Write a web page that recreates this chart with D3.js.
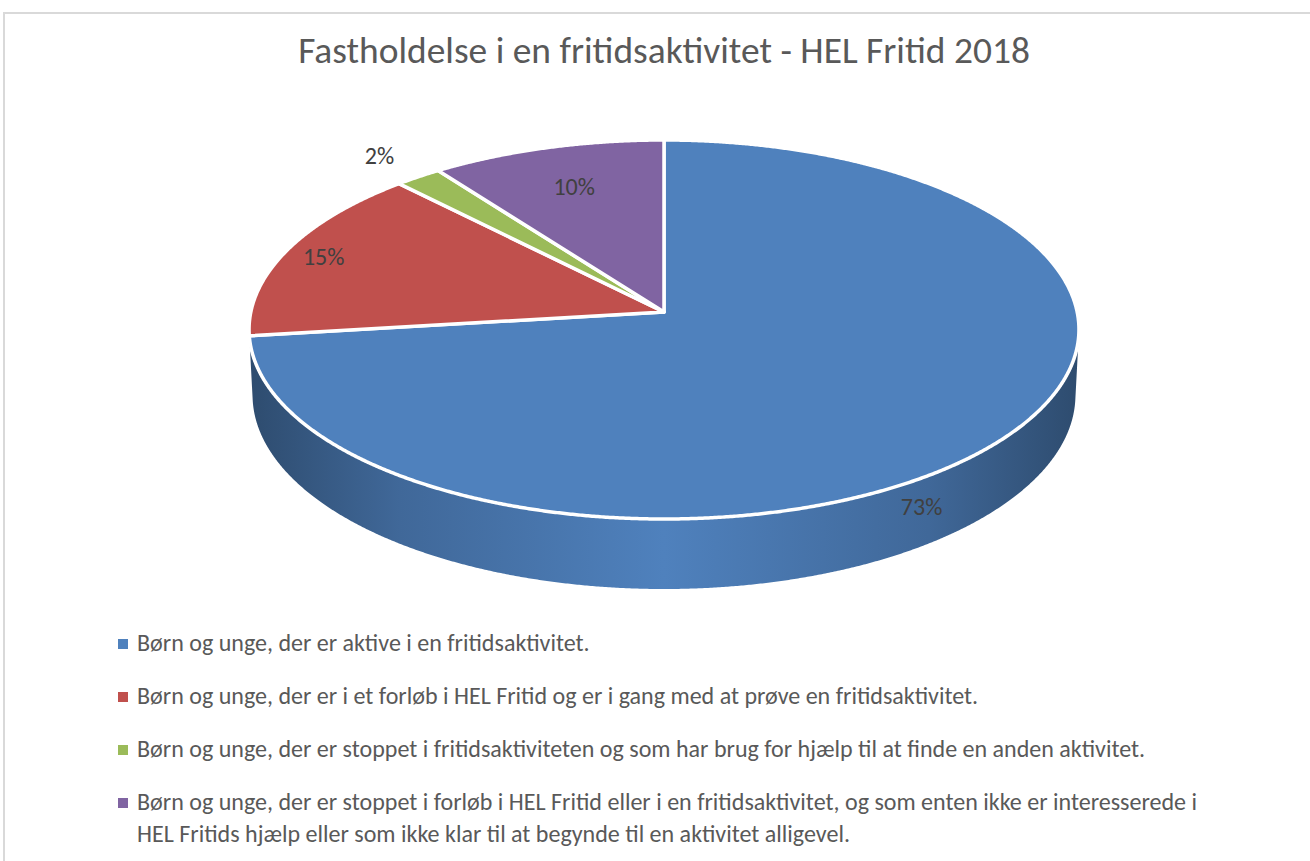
<!DOCTYPE html>
<html>
<head>
<meta charset="utf-8">
<script src="https://cdn.jsdelivr.net/npm/d3@7"></script>
<style>
  body { margin: 0; background: #fff; }
  text { font-family: Carlito, Calibri, "Open Sans", sans-serif; }
</style>
</head>
<body>
<div id="chart"></div>
<script>
// data
var title = "Fastholdelse i en fritidsaktivitet - HEL Fritid 2018";
var categories = [
  "Børn og unge, der er aktive i en fritidsaktivitet.",
  "Børn og unge, der er i et forløb i HEL Fritid og er i gang med at prøve en fritidsaktivitet.",
  "Børn og unge, der er stoppet i fritidsaktiviteten og som har brug for hjælp til at finde en anden aktivitet.",
  "Børn og unge, der er stoppet i forløb i HEL Fritid eller i en fritidsaktivitet, og som enten ikke er interesserede i\nHEL Fritids hjælp eller som ikke klar til at begynde til en aktivitet alligevel."
];
var values = [73, 15, 2, 10];
var labels = ["73%", "15%", "2%", "10%"];

var colors = ["#4f81bd", "#c0504d", "#9bbb59", "#8064a2"];

var W = 1310, H = 861;
var svg = d3.select("#chart").append("svg").attr("width", W).attr("height", H);

// chart border
svg.append("rect")
  .attr("x", 4).attr("y", 13).attr("width", 1330).attr("height", 900)
  .attr("fill", "none").attr("stroke", "#d9d9d9").attr("stroke-width", 2);

// title
var t = svg.append("text")
  .attr("x", 664).attr("y", 63)
  .attr("text-anchor", "middle")
  .attr("font-size", 33)
  .attr("fill", "#595959")
  .text(title);
fitText(t, 732);

// 3d projection of a tilted disk
var elev = 27.05 * Math.PI / 180;
var s = Math.sin(elev), c = Math.cos(elev);
var D = 9.645, K = 3985, h = 0.179;
var cx = 664, cy = 312;
var xScale = d3.scaleLinear().domain([-1, 1]).range([cx - K, cx + K]);
var yScale = d3.scaleLinear().domain([-1, 1]).range([cy + K, cy - K]);

function proj(theta, r, z) {
  var x = r * Math.sin(theta), y = r * Math.cos(theta);
  var depth = y * c - z * s + D;
  var up = y * s + z * c;
  return [xScale(x / depth), yScale(up / depth)];
}

var pie = d3.pie().sort(null).value(function(d) { return d; });
var arcs = pie(values);

var step = Math.PI / 720;
function arcPoints(a0, a1, z) {
  var pts = [];
  var n = Math.max(2, Math.ceil(Math.abs(a1 - a0) / step));
  for (var i = 0; i <= n; i++) {
    pts.push(proj(a0 + (a1 - a0) * i / n, 1, z));
  }
  return pts;
}

// gradients for the side walls
var defs = svg.append("defs");
colors.forEach(function(col, i) {
  var g = defs.append("linearGradient")
    .attr("id", "side" + i)
    .attr("gradientUnits", "userSpaceOnUse")
    .attr("x1", xScale(-1 / D)).attr("x2", xScale(1 / D))
    .attr("y1", 0).attr("y2", 0);
  var stops = [[0, 1.5], [0.18, 0.6], [0.5, 0], [0.82, 0.6], [1, 1.5]];
  stops.forEach(function(st) {
    g.append("stop").attr("offset", st[0])
      .attr("stop-color", d3.color(col).darker(st[1]).formatHex());
  });
});

// visible part of the wall
var visA = Math.acos(-1 / (D * c));
var visB = 2 * Math.PI - visA;

var sides = svg.append("g");
arcs.forEach(function(a, i) {
  var t0 = Math.max(a.startAngle, visA), t1 = Math.min(a.endAngle, visB);
  if (t1 <= t0) return;
  var top = arcPoints(t0, t1, 0);
  var bot = arcPoints(t1, t0, -h);
  var p = d3.path();
  top.concat(bot).forEach(function(pt, j) {
    if (j == 0) p.moveTo(pt[0], pt[1]); else p.lineTo(pt[0], pt[1]);
  });
  p.closePath();
  sides.append("path").attr("d", p.toString()).attr("fill", "url(#side" + i + ")");
});

// top faces
var tops = svg.append("g");
arcs.forEach(function(a, i) {
  var p = d3.path();
  var v = proj(0, 0, 0);
  p.moveTo(v[0], v[1]);
  arcPoints(a.startAngle, a.endAngle, 0).forEach(function(pt) { p.lineTo(pt[0], pt[1]); });
  p.closePath();
  tops.append("path").attr("d", p.toString())
    .attr("fill", colors[i])
    .attr("stroke", "#fff").attr("stroke-width", 3.5)
    .attr("stroke-linejoin", "round");
});

// data labels
var labelPlace = [[0.8, -0.24], [0.9, 0], [1.17, 0], [0.75, 0]];
arcs.forEach(function(a, i) {
  var mid = (a.startAngle + a.endAngle) / 2;
  var pt = proj(mid, labelPlace[i][0], labelPlace[i][1]);
  svg.append("text")
    .attr("x", pt[0]).attr("y", pt[1])
    .attr("text-anchor", "middle")
    .attr("dy", "0.35em")
    .attr("font-size", 18)
    .attr("class", "dlabel")
    .attr("fill", "#404040")
    .text(labels[i]);
});

// legend
var legend = svg.append("g");
var rowY = [651, 704, 757, 810];
var lineGap = 32;
categories.forEach(function(cat, i) {
  legend.append("rect")
    .attr("x", 118).attr("y", rowY[i] - 12)
    .attr("width", 10).attr("height", 10)
    .attr("fill", colors[i]);
  var tx = legend.append("text")
    .attr("class", "leg")
    .attr("x", 137).attr("y", rowY[i])
    .attr("font-size", 18)
    .attr("fill", "#595959");
  cat.split("\n").forEach(function(line, j) {
    tx.append("tspan").attr("x", 137).attr("y", rowY[i] + j * lineGap).text(line);
  });
});
// scale legend font so the first line matches the reference width
var first = legend.select("text.leg tspan");
var ratio = 453 / first.node().getComputedTextLength();
legend.selectAll("text.leg").attr("font-size", 18 * ratio);
svg.selectAll("text.dlabel").attr("font-size", 18 * ratio);

function fitText(sel, target) {
  var w = sel.node().getComputedTextLength();
  var fs = parseFloat(sel.attr("font-size"));
  sel.attr("font-size", fs * target / w);
}
</script>
</body>
</html>
